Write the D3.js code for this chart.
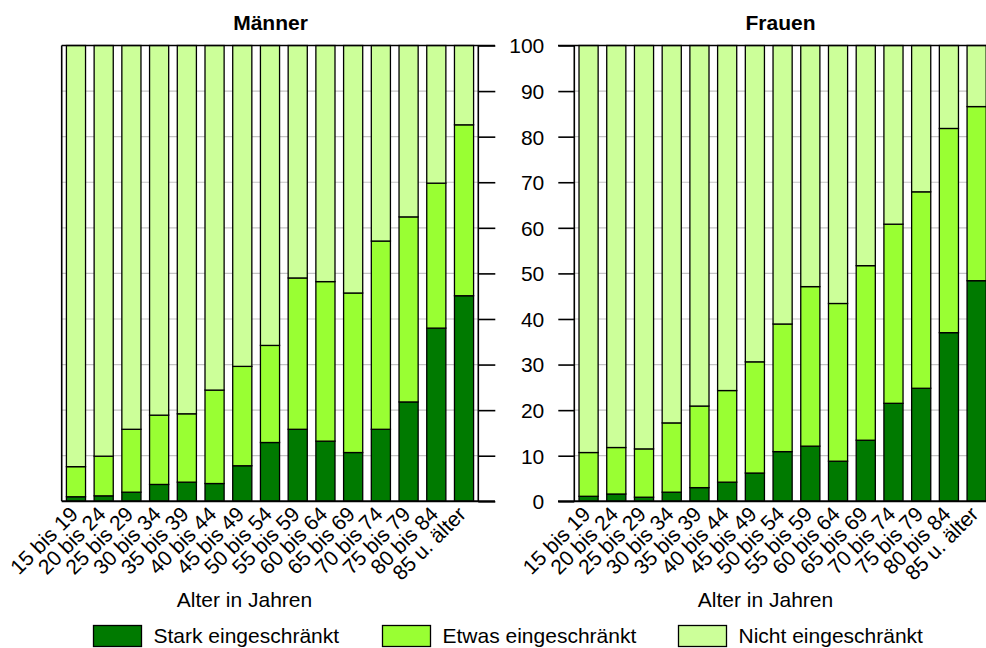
<!DOCTYPE html>
<html>
<head>
<meta charset="utf-8">
<script src="https://cdn.jsdelivr.net/npm/d3@7/dist/d3.min.js"></script>
<style>
  html, body { margin: 0; padding: 0; background: #fff; }
  svg { display: block; font-family: "Liberation Sans", Arial, sans-serif; }
</style>
</head>
<body>
<svg id="chart" width="986" height="648"></svg>
<script>
// ---- data ----
const categories = ["15 bis 19","20 bis 24","25 bis 29","30 bis 34","35 bis 39","40 bis 44","45 bis 49",
  "50 bis 54","55 bis 59","60 bis 64","65 bis 69","70 bis 74","75 bis 79","80 bis 84","85 u. älter"];

const maennerStark = [1.0, 1.2, 2.0, 3.7, 4.2, 3.9, 7.8, 12.9, 15.8, 13.2, 10.7, 15.8, 21.8, 38.0, 45.1];
const maennerEtwas = [6.6, 8.7, 13.8, 15.2, 15.0, 20.5, 21.8, 21.3, 33.2, 35.0, 35.0, 41.3, 40.6, 31.8, 37.5];
const maennerNicht = [92.4, 90.1, 84.2, 81.1, 80.8, 75.6, 70.4, 65.8, 51.0, 51.8, 54.3, 42.9, 37.6, 30.2, 17.4];

const frauenStark = [1.1, 1.6, 0.9, 2.0, 3.0, 4.2, 6.2, 10.9, 12.1, 8.8, 13.4, 21.5, 24.8, 37.0, 48.4];
const frauenEtwas = [9.6, 10.2, 10.6, 15.2, 17.9, 20.1, 24.4, 28.0, 35.0, 34.6, 38.3, 39.3, 43.1, 44.8, 38.2];
const frauenNicht = [89.3, 88.2, 88.5, 82.8, 79.1, 75.7, 69.4, 61.1, 52.9, 56.6, 48.3, 39.2, 32.1, 18.2, 13.4];

const seriesNames = ["Stark eingeschränkt", "Etwas eingeschränkt", "Nicht eingeschränkt"];
const seriesKeys = ["stark", "etwas", "nicht"];
const seriesColors = ["#007a00", "#99ff33", "#ccff99"];
const yTicks = [0, 10, 20, 30, 40, 50, 60, 70, 80, 90, 100];
const panelTitles = ["Männer", "Frauen"];
const xTitle = "Alter in Jahren";

// ---- layout ----
const svg = d3.select("#chart");
const FS = 21;
const yTop = 45.5, yBot = 501.3;
const y = d3.scaleLinear().domain([0, 100]).range([yBot, yTop]);
const color = d3.scaleOrdinal().domain(seriesKeys).range(seriesColors);

function buildTable(s, e, n) {
  return categories.map((c, i) => ({ cat: c, stark: s[i], etwas: e[i], nicht: n[i] }));
}

const panels = [
  { title: panelTitles[0], data: buildTable(maennerStark, maennerEtwas, maennerNicht),
    x0: 61.7, x1: 478.3, tickSide: "right", lineL: 61.7, lineR: 495, titleX: 270.5, xTitleX: 244.5 },
  { title: panelTitles[1], data: buildTable(frauenStark, frauenEtwas, frauenNicht),
    x0: 574.3, x1: 990.9, tickSide: "left", lineL: 558, lineR: 1000, titleX: 780.5, xTitleX: 765.5 }
];

const stack = d3.stack().keys(seriesKeys);

panels.forEach(p => {
  const g = svg.append("g");
  const x = d3.scaleBand().domain(categories).range([p.x0, p.x1]).paddingInner(0.31).paddingOuter(0.17);

  // gridlines
  g.append("g").selectAll("line").data(yTicks.filter(t => t > 0 && t < 100)).join("line")
    .attr("x1", p.x0).attr("x2", p.x1)
    .attr("y1", d => y(d)).attr("y2", d => y(d))
    .attr("stroke", "#c4c4c4").attr("stroke-width", 1.2);

  // y axis ticks
  if (p.tickSide === "right") {
    const ax = d3.axisRight(y).tickValues(yTicks).tickSize(17).tickFormat("");
    const ga = g.append("g").attr("transform", `translate(${p.x1},0)`).call(ax);
    ga.select(".domain").remove();
    ga.selectAll("line").attr("stroke", "#000").attr("stroke-width", 1.6);
  } else {
    const ax = d3.axisLeft(y).tickValues(yTicks).tickSize(16).tickPadding(14).tickFormat(d3.format("d"));
    const ga = g.append("g").attr("transform", `translate(${p.x0},0)`).call(ax);
    ga.select(".domain").remove();
    ga.selectAll("line").attr("stroke", "#000").attr("stroke-width", 1.6);
    ga.selectAll("text").attr("font-size", FS).attr("font-family", "Liberation Sans, Arial, sans-serif")
      .attr("fill", "#000").attr("dy", "0.35em");
  }

  // bars
  const series = stack(p.data);
  g.append("g").selectAll("g").data(series).join("g")
    .attr("fill", d => color(d.key))
    .selectAll("rect").data(d => d).join("rect")
    .attr("x", d => x(d.data.cat))
    .attr("width", x.bandwidth())
    .attr("y", d => y(d[1]))
    .attr("height", d => y(d[0]) - y(d[1]))
    .attr("stroke", "#000").attr("stroke-width", 1.3);

  // frame lines
  g.append("line").attr("x1", p.lineL).attr("x2", p.lineR).attr("y1", y(100)).attr("y2", y(100))
    .attr("stroke", "#000").attr("stroke-width", 1.6);
  g.append("line").attr("x1", p.lineL).attr("x2", p.lineR).attr("y1", y(0)).attr("y2", y(0))
    .attr("stroke", "#000").attr("stroke-width", 2);
  g.append("line").attr("x1", p.x0).attr("x2", p.x0).attr("y1", y(100)).attr("y2", y(0))
    .attr("stroke", "#000").attr("stroke-width", 1.6);
  if (p.tickSide === "right") {
    g.append("line").attr("x1", p.x1).attr("x2", p.x1).attr("y1", y(100)).attr("y2", y(0))
      .attr("stroke", "#000").attr("stroke-width", 1.6);
  }

  // x labels
  g.append("g").selectAll("text").data(categories).join("text")
    .attr("transform", d => `translate(${x(d) + x.bandwidth() / 2 - 2},${yBot + 9}) rotate(-45)`)
    .attr("text-anchor", "end").attr("dy", "0.35em")
    .attr("font-size", FS).attr("fill", "#000")
    .text(d => d);

  // panel title
  g.append("text").attr("x", p.titleX).attr("y", 29.5).attr("text-anchor", "middle")
    .attr("font-size", FS).attr("font-weight", "bold").text(p.title);

  // x axis title
  g.append("text").attr("x", p.xTitleX).attr("y", 607).attr("text-anchor", "middle")
    .attr("font-size", FS).text(xTitle);
});

// legend
const legendX = [93.5, 382.5, 678.5];
const lg = svg.append("g");
seriesKeys.forEach((k, i) => {
  lg.append("rect").attr("x", legendX[i]).attr("y", 625.5).attr("width", 48).attr("height", 21)
    .attr("fill", color(k)).attr("stroke", "#000").attr("stroke-width", 1.3);
  lg.append("text").attr("x", legendX[i] + 60).attr("y", 642.5).attr("font-size", FS)
    .text(seriesNames[i]);
});
</script>
</body>
</html>
